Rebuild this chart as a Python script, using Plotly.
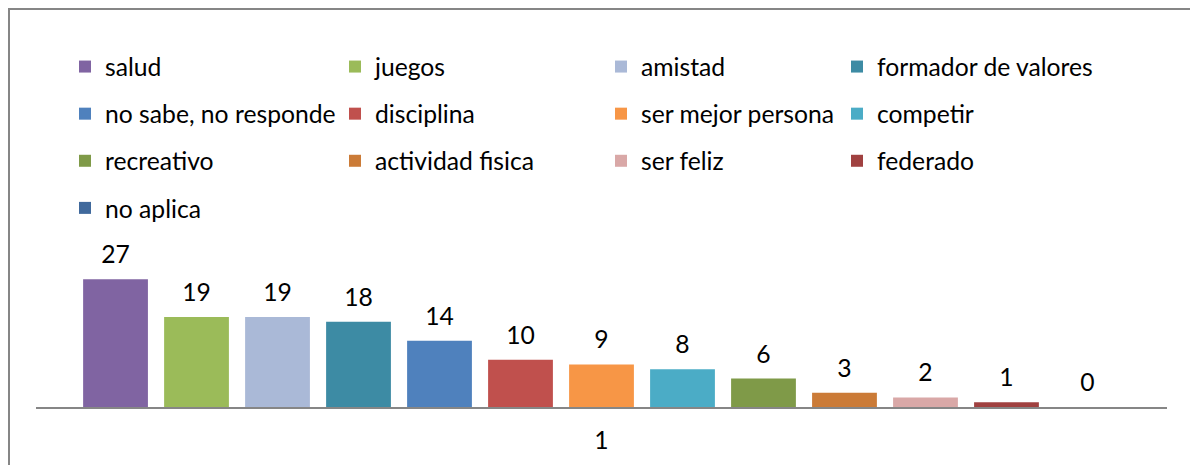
import plotly.graph_objects as go

# datos
categorias = ["salud", "juegos", "amistad", "formador de valores",
              "no sabe, no responde", "disciplina", "ser mejor persona", "competir",
              "recreativo", "actividad fisica", "ser feliz", "federado",
              "no aplica"]
valores = [27, 19, 19, 18, 14, 10, 9, 8, 6, 3, 2, 1, 0]
eje_x = ["1"]

colores = ["#8064A2", "#9BBB59", "#AAB9D7", "#3D8BA4",
           "#4F81BD", "#C0504D", "#F79646", "#4BACC6",
           "#7F9A48", "#CB7B37", "#D9A8A7", "#A04140",
           "#40699C"]

# la pagina tiene 8px de margen en body
W, H = 1190, 457
FONT = "Lato"
FS = 24.7
Y_MAX = 30
LABEL_SHIFT = 1.7   # separacion extra de las etiquetas (en unidades del eje)

fig = go.Figure()

legend_ids = ["legend", "legend2", "legend3", "legend4"]
for i, (cat, val) in enumerate(zip(categorias, valores)):
    fig.add_trace(go.Bar(
        x=eje_x, y=[val], name=cat,
        marker=dict(color=colores[i], line=dict(width=0)),
        legend=legend_ids[i % 4],
        legendgroup=cat,
        hoverinfo="skip",
    ))

# etiquetas de datos: barras invisibles en ejes superpuestos algo desplazados
for i, (cat, val) in enumerate(zip(categorias, valores)):
    fig.add_trace(go.Bar(
        x=eje_x, y=[val], name=cat,
        xaxis="x2", yaxis="y2",
        marker=dict(color="rgba(0,0,0,0)", line=dict(width=0)),
        text=[str(val)], textposition="outside",
        textfont=dict(family=FONT, size=FS, color="black"),
        cliponaxis=False, showlegend=False,
        hoverinfo="skip",
    ))

# posiciones de columnas de leyenda (px de la figura)
col_x = [57, 327, 593, 829]
leg_top = 36
for k, lid in enumerate(legend_ids):
    fig.update_layout(**{lid: dict(
        xref="container", yref="container",
        x=col_x[k] / W, y=1 - leg_top / H,
        xanchor="left", yanchor="top",
        orientation="v",
        font=dict(family=FONT, size=FS, color="black"),
        tracegroupgap=12,
        itemclick=False, itemdoubleclick=False,
        bgcolor="rgba(0,0,0,0)",
    )})

# area de trazado
ml, mr, mb, mt = 28, 31, 58, 257
fig.update_layout(
    width=W, height=H,
    margin=dict(l=ml, r=mr, b=mb, t=mt, pad=0, autoexpand=False),
    paper_bgcolor="white", plot_bgcolor="white",
    barmode="group", bargap=0.069, bargroupgap=0.2,
    showlegend=True,
    font=dict(family=FONT, size=FS, color="black"),
    xaxis=dict(
        showline=True, linecolor="#868686", linewidth=2,
        showgrid=False, zeroline=False, ticks="",
        ticklabelstandoff=10, automargin=False,
        tickfont=dict(family=FONT, size=FS, color="black"),
    ),
    yaxis=dict(range=[0, Y_MAX], visible=False, showgrid=False, zeroline=False),
    xaxis2=dict(overlaying="x", matches="x", visible=False),
    yaxis2=dict(overlaying="y", visible=False,
                range=[-LABEL_SHIFT, Y_MAX - LABEL_SHIFT]),
)

# borde del grafico
pw = W - ml - mr
ph = H - mb - mt
def px2x(px):
    return (px - ml) / pw
def py2y(py):
    return (H - mb - py) / ph
fig.add_shape(type="rect", xref="paper", yref="paper",
              x0=px2x(1), x1=px2x(1188), y0=py2y(470), y1=py2y(1),
              line=dict(color="#868686", width=2), layer="below")

fig.write_html("out.html")
